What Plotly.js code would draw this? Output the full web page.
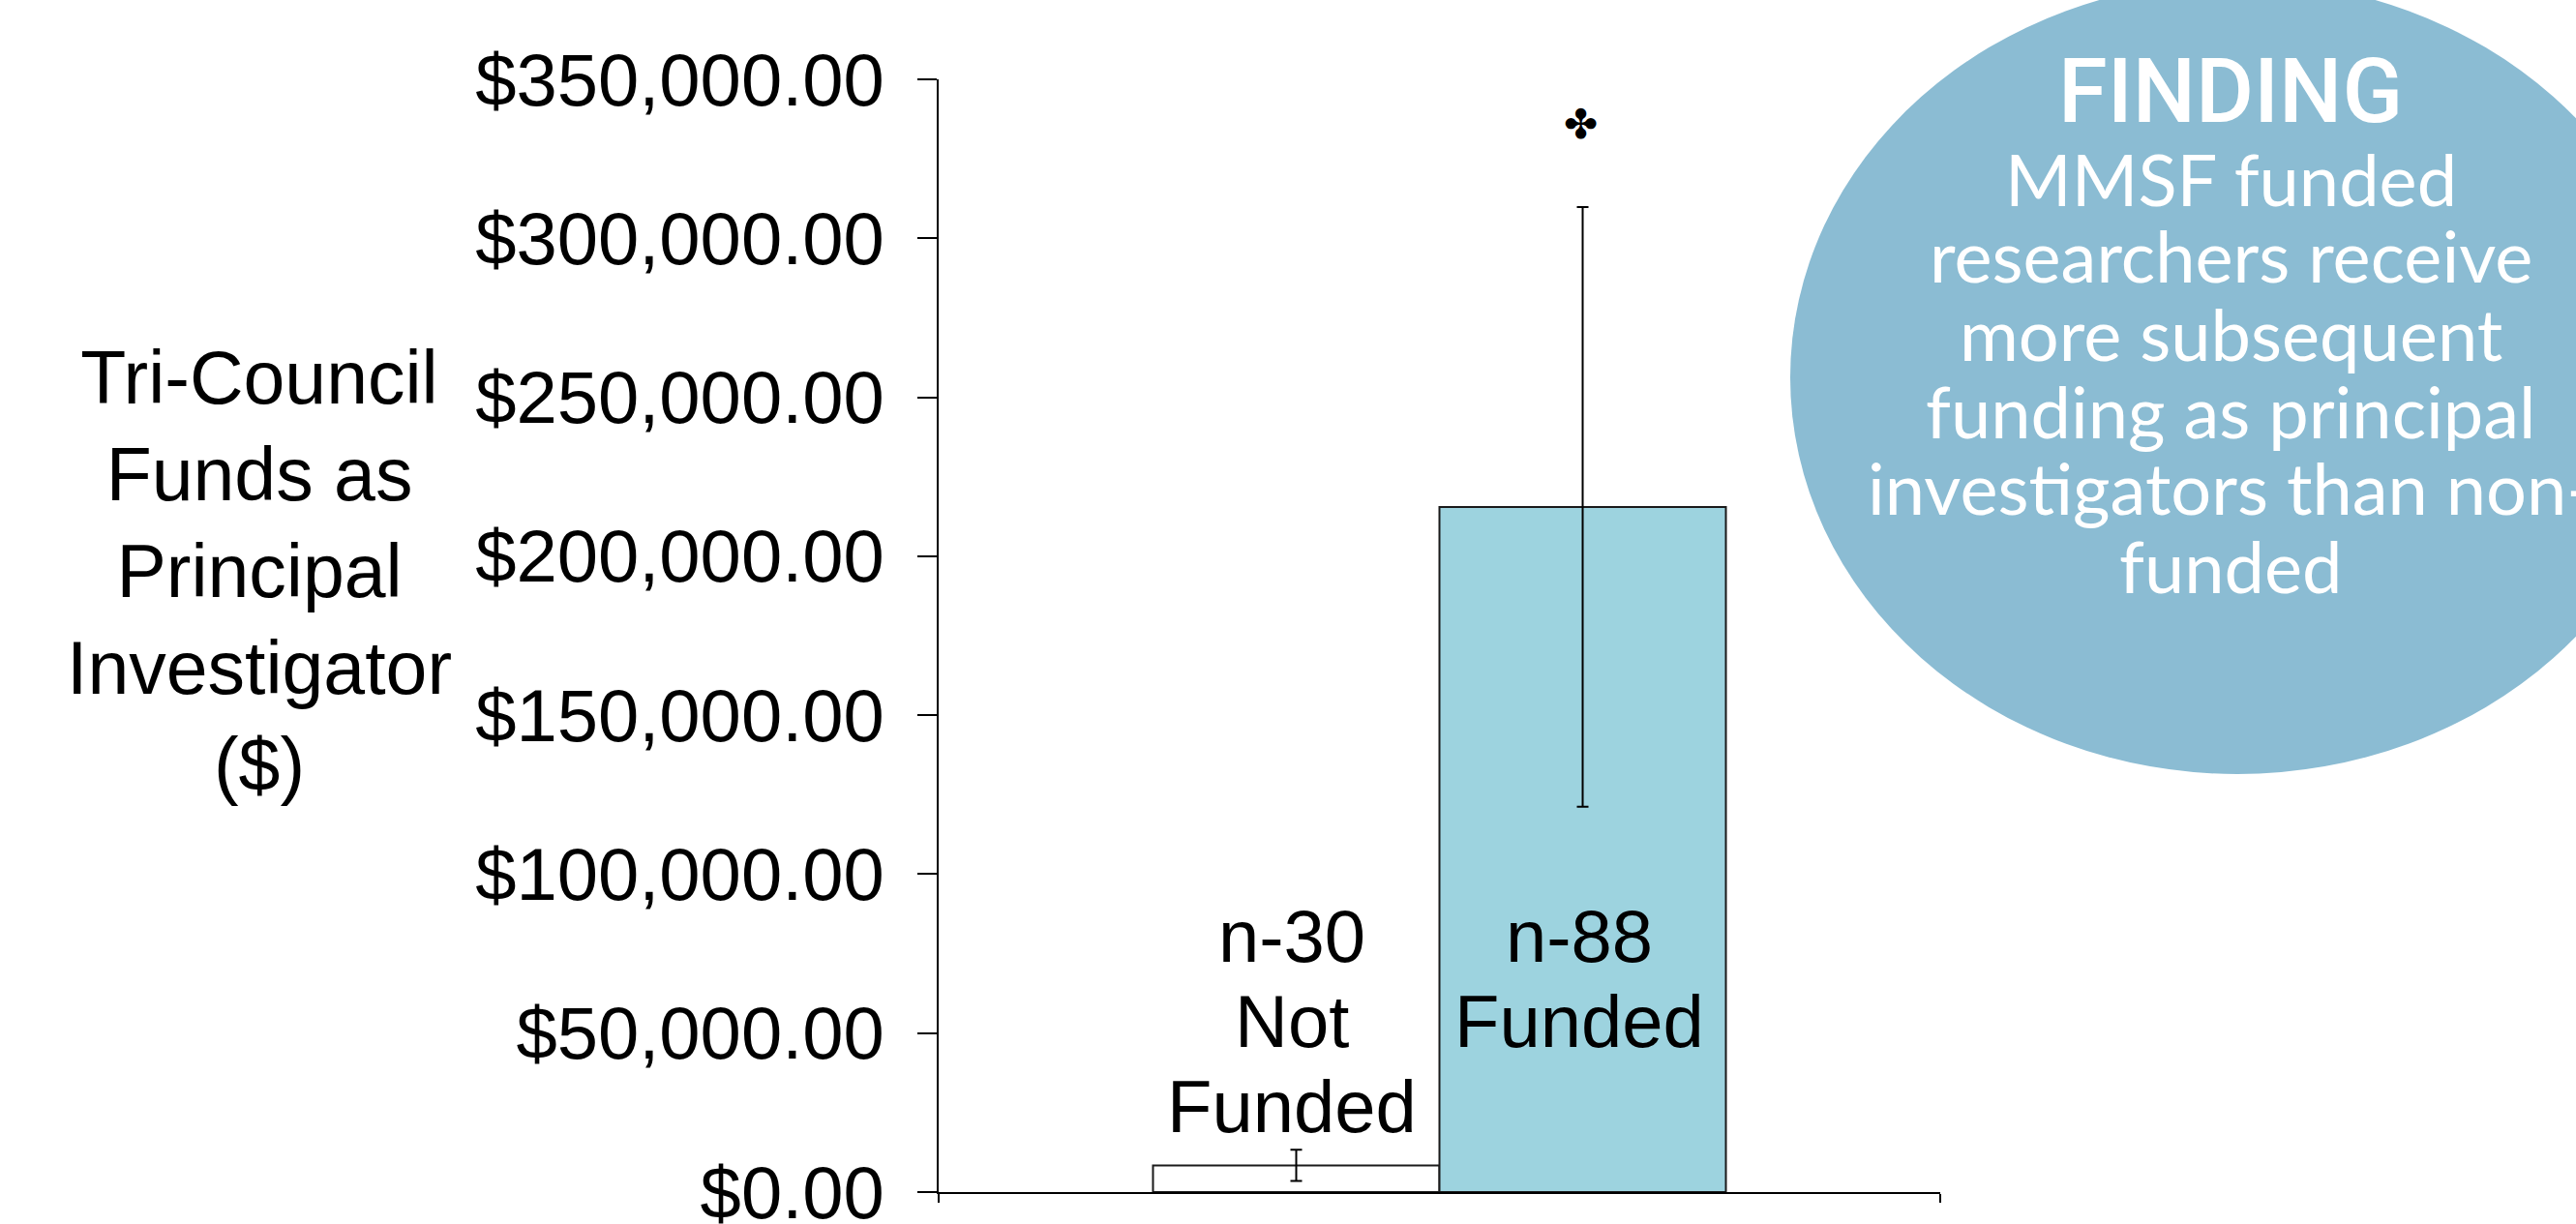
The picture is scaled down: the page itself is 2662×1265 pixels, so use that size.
<!DOCTYPE html>
<html>
<head>
<meta charset="utf-8">
<script src="https://cdn.plot.ly/plotly-3.0.1.min.js"></script>
<style>html,body{margin:0;padding:0;background:#fff;}#chart{width:2662px;height:1265px;}</style>
</head>
<body>
<div id="chart"></div>
<script>
// ---- data ----
const category = ['Tri-Council'];
const groups = ['Not Funded', 'Funded'];
const means = [8400, 215500];
const errors = [4900, 94300];
const groupColors = ['#FFFFFF', '#9DD3DF'];
const barLabels = [['n-30', 'Not', 'Funded'], ['n-88', 'Funded']];
const significance = ['', '✤'];
const significanceY = [null, 335700];
const yTicks = [0, 50000, 100000, 150000, 200000, 250000, 300000, 350000];
const yTitleLines = ['Tri-Council', 'Funds as', 'Principal', 'Investigator', '($)'];
const findingTitle = 'FINDING';
const findingLines = ['MMSF funded', 'researchers receive', 'more subsequent', 'funding as principal', 'investigators than non-', 'funded'];

// ---- layout geometry ----
const W = 2662, H = 1265;
const M = {l: 970, r: 657, t: 82, b: 33};
const plotW = W - M.l - M.r, plotH = H - M.t - M.b;
const bargap = 0.428;
const barPx = plotW * (1 - bargap) / groups.length;
const px2x = px => (px - M.l) / plotW;
const px2y = py => (H - M.b - py) / plotH;

const traces = groups.map((g, i) => ({
  type: 'bar',
  name: g,
  x: category,
  y: [means[i]],
  marker: {color: groupColors[i], line: {color: '#1a1a1a', width: 2}},
  error_y: {type: 'data', array: [errors[i]], visible: true, color: '#000', thickness: 2, width: 6},
  hoverinfo: 'skip'
}));

const annotations = [];
// y-axis title
annotations.push({
  xref: 'paper', yref: 'paper', x: px2x(268), y: px2y(590),
  xanchor: 'center', yanchor: 'middle', showarrow: false, align: 'center',
  text: yTitleLines.join('<br>'),
  font: {family: 'Liberation Sans, Arial, sans-serif', size: 77, color: '#000'}
});
// bar labels
const labelFirstCenterPx = H - M.b - 971 + 4; // pixels above the x axis
barLabels.forEach((lines, i) => {
  lines.forEach((ln, j) => {
    annotations.push({
      xref: 'x', yref: 'y', x: category[0], y: 0,
      xshift: (i - (groups.length - 1) / 2) * barPx - 4,
      yshift: labelFirstCenterPx - j * 88,
      xanchor: 'center', yanchor: 'middle', showarrow: false,
      text: ln,
      font: {family: 'Liberation Sans, Arial, sans-serif', size: 76, color: '#000'}
    });
  });
});
// significance marker
significance.forEach((s, i) => {
  if (!s) return;
  annotations.push({
    xref: 'x', yref: 'y', x: category[0], y: significanceY[i],
    xshift: (i - (groups.length - 1) / 2) * barPx - 2,
    xanchor: 'center', yanchor: 'middle', showarrow: false,
    text: s,
    font: {family: 'DejaVu Sans, sans-serif', size: 42, color: '#000', weight: 'bold'}
  });
});
// finding bubble texts
const bubbleCx = 2305;
annotations.push({
  xref: 'paper', yref: 'paper', x: px2x(bubbleCx), y: px2y(94),
  xanchor: 'center', yanchor: 'middle', showarrow: false,
  text: findingTitle,
  font: {family: 'Roboto, Liberation Sans, sans-serif', size: 92, color: '#fff', weight: 500}
});
findingLines.forEach((ln, j) => {
  annotations.push({
    xref: 'paper', yref: 'paper', x: px2x(bubbleCx), y: px2y(184 + j * 80),
    xanchor: 'center', yanchor: 'middle', showarrow: false,
    text: ln,
    font: {family: 'Lato, Open Sans, sans-serif', size: 74, color: '#fff'}
  });
});

const layout = {
  width: W, height: H,
  margin: M,
  paper_bgcolor: '#fff', plot_bgcolor: '#fff',
  showlegend: false,
  barmode: 'group',
  bargap: bargap,
  bargroupgap: 0,
  xaxis: {
    type: 'category', showline: true, linecolor: '#000', linewidth: 2,
    ticks: 'outside', tickson: 'boundaries', ticklen: 9, tickwidth: 2, tickcolor: '#000',
    showticklabels: false, showgrid: false, zeroline: false, fixedrange: true
  },
  yaxis: {
    range: [0, 350000], tickmode: 'array', tickvals: yTicks,
    tickformat: '$,.2f',
    showline: true, linecolor: '#000', linewidth: 2,
    ticks: 'outside', ticklen: 20, tickwidth: 2, tickcolor: '#000',
    ticklabelstandoff: 19,
    ticklabeloverflow: 'allow',
    tickfont: {family: 'Liberation Sans, Arial, sans-serif', size: 76, color: '#000'},
    showgrid: false, zeroline: false, fixedrange: true
  },
  shapes: [{
    type: 'circle', xref: 'paper', yref: 'paper', layer: 'below',
    x0: px2x(1850), x1: px2x(2774), y0: px2y(800), y1: px2y(-20),
    fillcolor: '#8BBCD3', line: {width: 0}
  }],
  annotations: annotations
};

Plotly.newPlot('chart', traces, layout, {displayModeBar: false, staticPlot: true});
</script>
</body>
</html>
